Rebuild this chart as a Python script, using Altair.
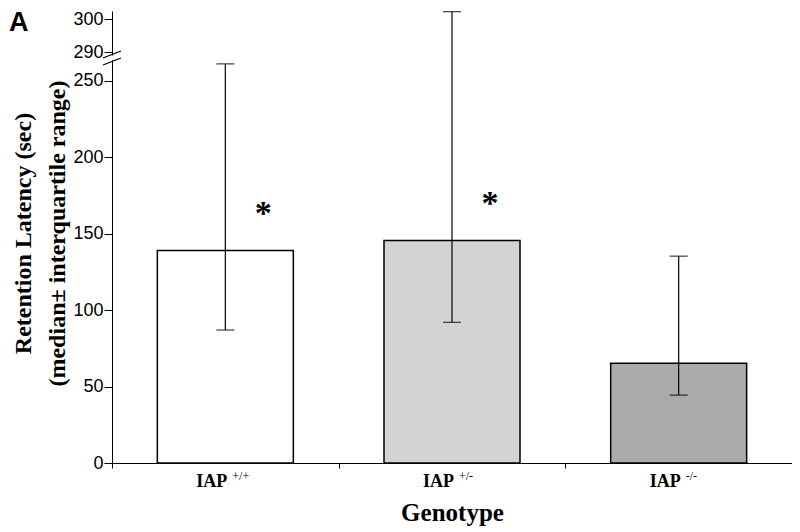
import altair as alt
import pandas as pd

# ---- data ----
genotypes = ["+/+", "+/-", "-/-"]
base_label = ["IAP", "IAP", "IAP"]
medians = [139.0, 145.5, 65.3]
q1 = [87.0, 92.0, 44.4]
q3 = [261.5, 302.4, 135.3]
fills = ["#ffffff", "#d3d3d3", "#aaaaaa"]
star_geno = ["+/+", "+/-"]
star_y = [168.5, 175.0]
y_ticks = [0, 50, 100, 150, 200, 250, 290, 300]

df = pd.DataFrame({
    "geno": genotypes, "base": base_label, "median": medians,
    "lo": q1, "hi": q3, "fill": fills,
})
stars = pd.DataFrame({"geno": star_geno, "y": star_y})

W, H = 680, 452
SERIF = "Liberation Serif"
SANS = "Liberation Sans"

xscale = alt.Scale(domain=genotypes, paddingInner=0, paddingOuter=0)
# broken axis: piecewise linear scale (lower 0-261, upper 288.5-302.6)
yscale = alt.Scale(domain=[0, 261, 288.5, 302.6], range=[H, 53, 46, 0], nice=False)

xenc = alt.X("geno:N", scale=xscale, sort=genotypes,
             axis=alt.Axis(labels=False, tickBand="extent", tickSize=5, title="Genotype",
                           titleFont=SERIF, titleFontSize=25, titleFontWeight="bold",
                           titlePadding=32, titleColor="black",
                           domainColor="black", tickColor="black"))

bars = alt.Chart(df).mark_bar(stroke="black", strokeWidth=1.5,
                              width=alt.RelativeBandSize(0.6)).encode(
    x=xenc,
    y=alt.Y("median:Q", scale=yscale,
            axis=alt.Axis(values=y_ticks, tickSize=8, labelPadding=1,
                          labelFont=SANS, labelFontSize=18, labelColor="black",
                          title=["Retention Latency (sec)", "(median\u00b1 interquartile range)"],
                          titleFont=SERIF, titleFontSize=24, titleFontWeight="bold",
                          titleLineHeight=34, titlePadding=3, titleColor="black",
                          titleY=222,
                          domainColor="black", tickColor="black")),
    fill=alt.Fill("fill:N", scale=None),
)

whisker = alt.Chart(df).mark_rule(color="black", strokeWidth=1.2).encode(
    x=alt.X("geno:N", scale=xscale, sort=genotypes),
    y=alt.Y("lo:Q", scale=yscale),
    y2="hi:Q",
)
cap_hi = alt.Chart(df).mark_tick(orient="horizontal", size=18, thickness=1.3, color="black").encode(
    x=alt.X("geno:N", scale=xscale, sort=genotypes),
    y=alt.Y("hi:Q", scale=yscale),
)
cap_lo = alt.Chart(df).mark_tick(orient="horizontal", size=18, thickness=1.3, color="black").encode(
    x=alt.X("geno:N", scale=xscale, sort=genotypes),
    y=alt.Y("lo:Q", scale=yscale),
)

star_marks = alt.Chart(stars).mark_text(text="*", dx=38, dy=9, fontSize=34, font=SERIF,
                                        fontWeight="bold", color="black").encode(
    x=alt.X("geno:N", scale=xscale, sort=genotypes),
    y=alt.Y("y:Q", scale=yscale),
)

lab_main = alt.Chart(df).mark_text(align="right", baseline="alphabetic", dx=2, fontSize=18,
                                   font=SERIF, fontWeight="bold", color="black").encode(
    x=alt.X("geno:N", scale=xscale, sort=genotypes),
    y=alt.value(H + 24),
    text="base:N",
)
lab_sup = alt.Chart(df).mark_text(align="left", baseline="alphabetic", dx=7, fontSize=12,
                                  font=SERIF, color="black").encode(
    x=alt.X("geno:N", scale=xscale, sort=genotypes),
    y=alt.value(H + 17),
    text="geno:N",
)

# axis break marks
brk1 = alt.Chart(df.head(1)).mark_rule(color="black", strokeWidth=1.3).encode(
    x=alt.value(-9), x2=alt.value(9), y=alt.value(47), y2=alt.value(40))
brk2 = alt.Chart(df.head(1)).mark_rule(color="black", strokeWidth=1.3).encode(
    x=alt.value(-9), x2=alt.value(9), y=alt.value(54), y2=alt.value(47))
brk_gap = alt.Chart(df.head(1)).mark_rule(color="white", strokeWidth=3).encode(
    x=alt.value(0), y=alt.value(44.5), y2=alt.value(49.5))

panel_letter = alt.Chart(df.head(1)).mark_text(text="A", align="left", baseline="top",
                                               fontSize=27, font=SANS, fontWeight="bold",
                                               color="black").encode(
    x=alt.value(-103), y=alt.value(-1))

chart = alt.layer(bars, whisker, cap_hi, cap_lo, star_marks, lab_main, lab_sup,
                  brk_gap, brk1, brk2, panel_letter).properties(
    width=W, height=H,
    autosize=alt.AutoSizeParams(type="none"),
    padding={"left": 104, "top": 3, "right": 0, "bottom": 66},
).configure_view(stroke=None).configure_axis(grid=False)

chart.save("out.html", embed_options={"renderer": "svg", "actions": False})
